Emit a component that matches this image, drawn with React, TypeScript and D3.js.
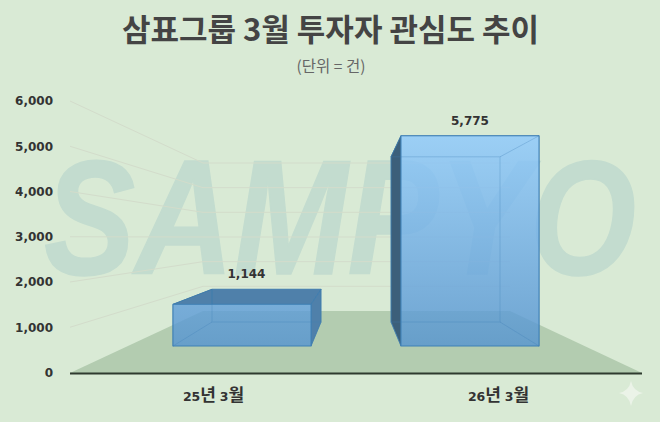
import React, { useEffect, useRef } from 'react';
import * as d3 from 'd3';

const categories = ['25년 3월', '26년 3월'];
const values = [1144, 5775];
const yTicks = [0, 1000, 2000, 3000, 4000, 5000, 6000];
const titleText = '삼표그룹 3월 투자자 관심도 추이';
const unitText = '(단위 = 건)';
const sideColors = ['#4f80aa', '#3c5f7a'];

const W = 660;
const H = 422;
const KR = '"Noto Sans CJK KR", "Noto Sans", sans-serif';
const NUM = '"DejaVu Sans", "Noto Sans CJK KR", sans-serif';

const App = () => {
  const ref = useRef<SVGSVGElement>(null);

  useEffect(() => {
    const svg = d3.select(ref.current);
    svg.selectAll('*').remove();

    const defs = svg.append('defs');
    const grad = defs.append('linearGradient').attr('id', 'barFront')
      .attr('gradientUnits', 'userSpaceOnUse')
      .attr('x1', 0).attr('x2', 0).attr('y1', 136).attr('y2', 346);
    grad.append('stop').attr('offset', 0).attr('stop-color', '#8cc8fd');
    grad.append('stop').attr('offset', 1).attr('stop-color', '#5493d0');

    svg.append('rect').attr('width', W).attr('height', H).attr('fill', '#d9ead5');

    // watermark
    svg.append('text')
      .attr('x', 44).attr('y', 274)
      .attr('textLength', 592).attr('lengthAdjust', 'spacingAndGlyphs')
      .attr('font-family', '"Liberation Sans", sans-serif')
      .attr('font-weight', 700).attr('font-style', 'italic').attr('font-size', 164)
      .attr('fill', '#c3dccf').attr('stroke', '#c3dccf').attr('stroke-width', 1.5)
      .text('SAMPYO');

    // scales: front of the axis box, back wall, and the two faces of each bar
    const y = d3.scaleLinear().domain([0, 6000]).range([372.5, 101]);
    const yBack = d3.scaleLinear().domain([0, 6000]).range([311, 163]);
    const yFace = d3.scaleLinear().domain([0, 6000]).range([346, 127.6]);
    const yInner = d3.scaleLinear().domain([0, 6000]).range([322, 150.4]);
    const xFace = d3.scalePoint<string>().domain(categories).range([242, 470]);
    const xInner = d3.scalePoint<string>().domain(categories).range([266.5, 445.5]);
    const xAxis = d3.scalePoint<string>().domain(categories).range([213, 498]);
    const xLabel = d3.scalePoint<string>().domain(categories).range([246.5, 470]);
    const faceW = 138;
    const innerW = 109;
    const line = d3.line();

    // floor
    svg.append('path')
      .attr('d', line([[70, 373], [203, 311], [510, 311], [642, 373]]) + 'Z')
      .attr('fill', '#b3ccb0');

    // grid on the walls
    const grid = svg.append('g').attr('fill', 'none').attr('stroke', '#d3dccb').attr('stroke-width', 1);
    yTicks.slice(1).forEach(t => {
      grid.append('path').attr('d', line([[70, y(t)], [203, yBack(t)], [510, yBack(t)]]));
    });

    // bars
    categories.forEach((c, i) => {
      const v = values[i];
      const fx0 = xFace(c)! - faceW / 2;
      const fx1 = fx0 + faceW;
      const bx0 = xInner(c)! - innerW / 2;
      const bx1 = bx0 + innerW;
      const ft = yFace(v);
      const fb = yFace(0);
      const bt = yInner(v);
      const bb = yInner(0);

      const clipId = `outside-${i}`;
      defs.append('clipPath').attr('id', clipId)
        .append('path')
        .attr('clip-rule', 'evenodd')
        .attr('d', `M0 0H${W}V${H}H0Z M${fx0} ${ft}H${fx1}V${fb}H${fx0}Z`);

      const g = svg.append('g');
      const sides = g.append('g').attr('clip-path', `url(#${clipId})`).attr('fill', sideColors[i]);
      const quads: [number, number][][] = [
        [[bx0, bt], [fx0, ft], [fx1, ft], [bx1, bt]],
        [[bx0, bt], [fx0, ft], [fx0, fb], [bx0, bb]],
        [[bx1, bt], [fx1, ft], [fx1, fb], [bx1, bb]],
      ];
      quads.forEach(q => {
        sides.append('path').attr('d', line(q) + 'Z')
          .attr('stroke', '#3f7bab').attr('stroke-width', 0.8);
      });

      g.append('rect')
        .attr('x', fx0).attr('y', ft)
        .attr('width', faceW).attr('height', fb - ft)
        .attr('fill', 'url(#barFront)').attr('fill-opacity', 0.8)
        .attr('stroke', '#3f80b6').attr('stroke-width', 1);

      // inner edges seen through the glass
      const inner = g.append('g').attr('fill', 'none').attr('stroke', '#3f7fb5').attr('stroke-opacity', 0.3);
      inner.append('rect').attr('x', bx0).attr('y', bt).attr('width', innerW).attr('height', bb - bt);
      inner.append('path').attr('d', line([[bx0, bb], [fx0, fb]]));
      inner.append('path').attr('d', line([[bx1, bb], [fx1, fb]]));
      inner.append('path').attr('d', line([[bx1, bt], [fx1, ft]]));

      svg.append('text')
        .attr('x', xLabel(c)!).attr('y', Math.min(ft, bt) - 11)
        .attr('text-anchor', 'middle')
        .attr('font-family', NUM).attr('font-weight', 700).attr('font-size', 12)
        .attr('fill', '#333')
        .text(d3.format(',')(v));
    });

    // axes
    const axisY = svg.append('g')
      .attr('transform', 'translate(70,0)')
      .call(d3.axisLeft(y).tickValues(yTicks).tickSize(0).tickPadding(17).tickFormat(d3.format(',') as any));
    axisY.select('.domain').remove();
    axisY.selectAll('text')
      .attr('font-family', NUM).attr('font-weight', 700).attr('font-size', 12).attr('fill', '#333');

    const axisX = svg.append('g')
      .attr('transform', 'translate(0,373)')
      .call(d3.axisBottom(xAxis).tickSize(0).tickPadding(19));
    axisX.select('.domain').remove();
    axisX.selectAll('text')
      .attr('font-family', NUM).attr('font-weight', 700).attr('font-size', 12.5).attr('fill', '#333')
      .each(function (d: any) {
        // hangul runs larger than the digits in the reference
        const t = d3.select(this).text('');
        (String(d).match(/\d+|\D+/g) || []).forEach(part => {
          t.append('tspan')
            .attr('font-size', /\d/.test(part) ? 12.5 : 17)
            .attr('font-family', /\d/.test(part) ? NUM : KR)
            .text(part);
        });
      });

    svg.append('line')
      .attr('x1', 70).attr('x2', 642).attr('y1', 373.5).attr('y2', 373.5)
      .attr('stroke', '#2f3a2f').attr('stroke-width', 2);

    // title
    svg.append('text')
      .attr('x', 330.5).attr('y', 41)
      .attr('text-anchor', 'middle')
      .attr('font-family', KR).attr('font-weight', 700).attr('font-size', 31)
      .attr('fill', '#444')
      .text(titleText);
    svg.append('text')
      .attr('x', 331).attr('y', 72)
      .attr('text-anchor', 'middle')
      .attr('font-family', KR).attr('font-size', 15.5)
      .attr('fill', '#666')
      .text(unitText);

    // sparkle in the corner
    const star = d3.path();
    star.moveTo(631, 381);
    star.quadraticCurveTo(633, 391, 643, 393);
    star.quadraticCurveTo(633, 395, 631, 406);
    star.quadraticCurveTo(629, 395, 619, 393);
    star.quadraticCurveTo(629, 391, 631, 381);
    svg.append('path').attr('d', star.toString()).attr('fill', '#ebf3e8');
  }, []);

  return <svg ref={ref} width={W} height={H} style={{ position: 'absolute', left: 0, top: 0 }} />;
};

export default App;
